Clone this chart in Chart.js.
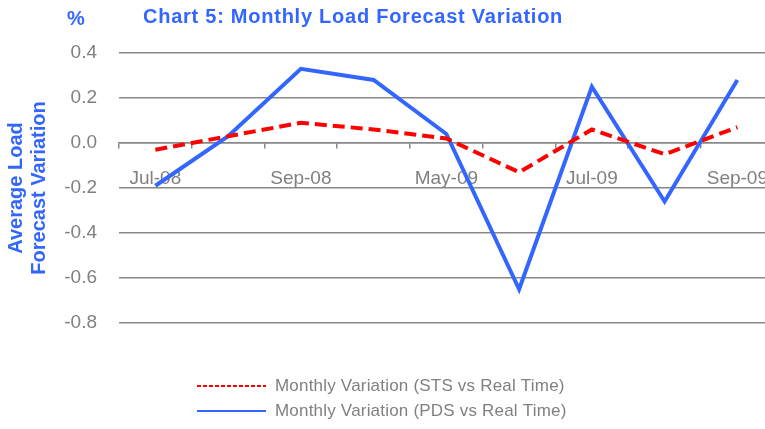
<!DOCTYPE html>
<html>
<head>
<meta charset="utf-8">
<script src="https://cdn.jsdelivr.net/npm/chart.js@4.4.1/dist/chart.umd.min.js"></script>
<style>
html, body { margin:0; padding:0; background:#fff; overflow:hidden; }
#wrap { width:787px; height:429px; position:relative; }
</style>
</head>
<body>
<div id="wrap"><canvas id="loadChart"></canvas></div>
<script>
// 카테고리 (월)
var months = ['Jul-08', 'Aug-08', 'Sep-08', 'Apr-09', 'May-09', 'Jun-09', 'Jul-09', 'Aug-09', 'Sep-09'];
// 축에 표시되는 라벨
var shownMonths = ['Jul-08', 'Sep-08', 'May-09', 'Jul-09', 'Sep-09'];
// 시리즈 값 (%)
var stsVar = [-0.03, 0.03, 0.09, 0.06, 0.02, -0.13, 0.06, -0.05, 0.07];
var pdsVar = [-0.19, 0.03, 0.33, 0.28, 0.04, -0.65, 0.25, -0.26, 0.28];
var seriesNames = ['Monthly Variation (STS vs Real Time)', 'Monthly Variation (PDS vs Real Time)'];
var chartTitle = 'Chart 5: Monthly Load Forecast Variation';
var yTitle = ['Average Load', 'Forecast Variation'];

var BLUE = '#3366ff';
var RED = '#ff0000';
var GREY = '#808080';
var FONT = '"Liberation Sans", Arial, sans-serif';

Chart.defaults.font.family = FONT;

// 제목, %, 범례 그리기
var textPlugin = {
	id: 'chartTexts',
	afterDraw: function(chart){
		var ctx = chart.ctx;
		ctx.save();
		ctx.fillStyle = BLUE;
		ctx.font = 'bold 20px ' + FONT;
		ctx.textBaseline = 'middle';
		ctx.textAlign = 'left';
		ctx.fillText('%', 67, 19);
		ctx.letterSpacing = '0.75px';
		ctx.fillText(chartTitle, 143, 17);

		//범례
		var rows = [386, 411];
		ctx.letterSpacing = '0.2px';
		chart.data.datasets.forEach(function(ds, i){
			var y = rows[i];
			ctx.beginPath();
			ctx.lineWidth = 2;
			ctx.strokeStyle = ds.borderColor;
			ctx.setLineDash(ds.borderDash ? [4, 2] : []);
			ctx.moveTo(197, y);
			ctx.lineTo(266, y);
			ctx.stroke();
			ctx.setLineDash([]);
			ctx.fillStyle = GREY;
			ctx.font = '17px ' + FONT;
			ctx.fillText(ds.label, 275, y);
		});
		ctx.restore();
	}
};

var ctx1 = document.getElementById('loadChart');
var chart = new Chart(ctx1, {
	type: 'line',
	data: {
		labels: months,
		datasets: [{
			label: seriesNames[0],
			data: stsVar,
			borderColor: RED,
			borderWidth: 4,
			borderDash: [12, 6],
			pointRadius: 0,
			tension: 0
		}, {
			label: seriesNames[1],
			data: pdsVar,
			borderColor: BLUE,
			borderWidth: 4,
			pointRadius: 0,
			tension: 0
		}]
	},
	options: {
		responsive: true,
		maintainAspectRatio: false,
		animation: false,
		layout: { padding: { top: 53, bottom: 106, left: 5, right: 0 } },
		plugins: {
			legend: { display: false },
			title: { display: false },
			tooltip: { enabled: false }
		},
		scales: {
			x: {
				position: { y: 0 },
				offset: true,
				grid: { offset: true, drawOnChartArea: false, drawTicks: true, tickLength: 5, color: '#888888', lineWidth: 1.5 },
				border: { display: true, color: '#888888', width: 1.5 },
				ticks: {
					autoSkip: false,
					maxRotation: 0,
					padding: 19,
					color: GREY,
					font: { size: 19 },
					callback: function(value, index){
						var lab = months[index];
						return shownMonths.indexOf(lab) >= 0 ? lab : '';
					}
				}
			},
			y: {
				min: -0.8,
				max: 0.4,
				afterFit: function(scale){ scale.width = 114; },
				grid: { color: '#888888', lineWidth: 1.5, drawTicks: false },
				border: { display: false },
				ticks: {
					stepSize: 0.2,
					padding: 22,
					color: GREY,
					font: { size: 19 },
					callback: function(v){ return v.toFixed(1); }
				},
				title: {
					display: true,
					text: yTitle,
					color: BLUE,
					font: { size: 20, weight: 'bold', lineHeight: 1.15 },
					padding: { top: 0, bottom: 0 }
				}
			}
		}
	},
	plugins: [textPlugin]
});
</script>
</body>
</html>
